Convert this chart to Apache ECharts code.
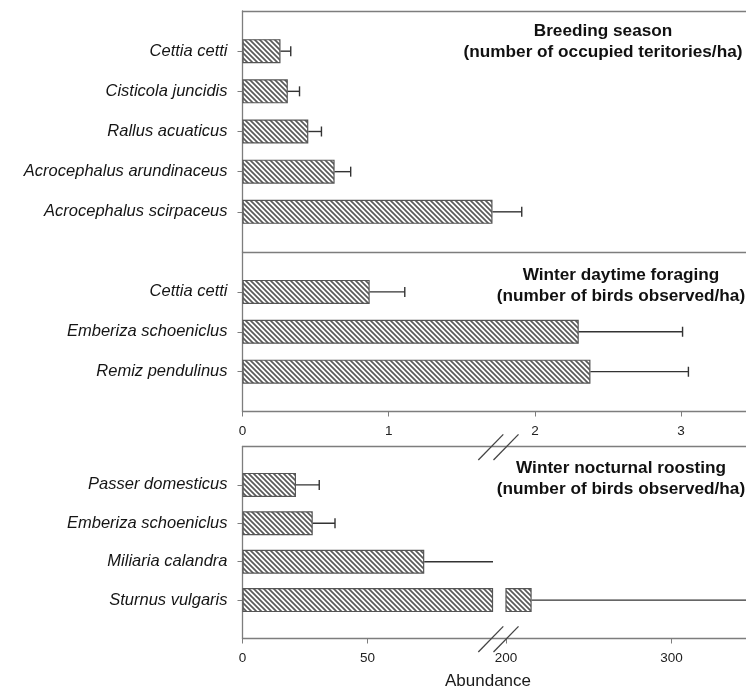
<!DOCTYPE html>
<html><head><meta charset="utf-8">
<script src="https://cdn.jsdelivr.net/npm/echarts@6/dist/echarts.min.js"></script>
<style>html,body{margin:0;padding:0;background:#fff}#c{width:746px;height:691px}</style>
</head><body><div id="c"></div>
<script>
// ---- data ----
const breedCats = ['Cettia cetti', 'Cisticola juncidis', 'Rallus acuaticus', 'Acrocephalus arundinaceus', 'Acrocephalus scirpaceus'];
const breedMean = [0.26, 0.31, 0.45, 0.63, 1.71];
const breedErr  = [0.07, 0.08, 0.09, 0.11, 0.20];
const dayCats = ['Cettia cetti', 'Emberiza schoeniclus', 'Remiz pendulinus'];
const dayMean = [0.87, 2.30, 2.38];
const dayErr  = [0.24, 0.71, 0.67];
const roostCats = ['Passer domesticus', 'Emberiza schoeniclus', 'Miliaria calandra', 'Sturnus vulgaris'];
const roostMean = [21.4, 28.1, 72.7, 215.5];
const roostErr  = [9.3, 8.9, 40, 150];
const dayTicks = [0, 1, 2, 3];
const roostTicksLow = [0, 50];
const roostTicksHigh = [200, 300];
const panelTitles = [
  'Breeding season\n(number of occupied teritories/ha)',
  'Winter daytime foraging\n(number of birds observed/ha)',
  'Winter nocturnal roosting\n(number of birds observed/ha)'
];
const xAxisTitle = 'Abundance';

// ---- layout ----
const FONT = '"Liberation Sans", Arial, sans-serif';
const L = 242.5;
const G0 = {left: L, top: 11, width: 503.5, height: 241};
const G1 = {left: L, top: 252, width: 503.5, height: 159.5};
const G2 = {left: L, top: 446.5, width: 250, height: 192};
const G3 = {left: 506, top: 446.5, width: 240, height: 192};
const G4 = {left: L, top: 446.5, width: 503.5, height: 192};
const AX = '#7d7d7d';

const P = 5;
const hatch = document.createElement('canvas');
hatch.width = P; hatch.height = P;
(function () {
  const g = hatch.getContext('2d');
  g.fillStyle = '#fff'; g.fillRect(0, 0, P, P);
  g.strokeStyle = '#5a5a5a'; g.lineWidth = 1.7;
  g.beginPath();
  g.moveTo(-1, -1); g.lineTo(P + 1, P + 1);
  g.moveTo(-1, P - 1); g.lineTo(1, P + 1);
  g.moveTo(P - 1, -1); g.lineTo(P + 1, 1);
  g.stroke();
})();

const pad = a => [' ', ...a, '  '];
const padV = a => [null, ...a, null];

function catAxis(grid, cats, show) {
  const n = cats.length + 2;
  return {
    type: 'category', gridIndex: grid, inverse: true, boundaryGap: false,
    data: pad(cats), show: show !== false,
    axisLine: {show: true, lineStyle: {color: AX, width: 1.3}},
    axisTick: {show: true, length: 5, inside: false, interval: (i) => i > 0 && i < n - 1, lineStyle: {color: AX}},
    axisLabel: {fontFamily: FONT, fontStyle: 'italic', fontSize: 16.5, color: '#151515', margin: 15,
      interval: 0},
    splitLine: {show: false}
  };
}
function valAxis(grid, min, max, opts) {
  return Object.assign({
    type: 'value', gridIndex: grid, min, max, position: 'bottom',
    axisLine: {show: true, onZero: false, lineStyle: {color: AX, width: 1.3}},
    axisTick: {show: false}, axisLabel: {show: false}, splitLine: {show: false}
  }, opts || {});
}
function ticked(vals) {
  return {
    axisTick: {show: true, length: 5, customValues: vals, lineStyle: {color: AX}},
    axisLabel: {show: true, customValues: vals, fontFamily: FONT, fontSize: 13.5, color: '#222', margin: 13}
  };
}
function barSeries(xi, yi, means) {
  return {
    type: 'bar', xAxisIndex: xi, yAxisIndex: yi, data: padV(means), barWidth: 24, clip: true,
    itemStyle: {color: {image: hatch, repeat: 'repeat'}, borderColor: '#555', borderWidth: 1.2},
    silent: true, z: 2
  };
}
function errSeries(xi, yi, means, errs) {
  const data = means.map((m, i) => [i + 1, m, m + errs[i]]);
  return {
    type: 'custom', xAxisIndex: xi, yAxisIndex: yi, clip: true, silent: true, z: 3,
    encode: {x: [1, 2], y: 0},
    data,
    renderItem(params, api) {
      const c = api.value(0);
      const p0 = api.coord([api.value(1), c]);
      const p1 = api.coord([api.value(2), c]);
      const h = 5;
      const st = {stroke: '#333', lineWidth: 1.4};
      return {type: 'group', children: [
        {type: 'line', shape: {x1: p0[0], y1: p0[1], x2: p1[0], y2: p1[1]}, style: st},
        {type: 'line', shape: {x1: p1[0], y1: p1[1] - h, x2: p1[0], y2: p1[1] + h}, style: st}
      ]};
    }
  };
}

const XMAX = G0.width / 146.2;

const option = {
  animation: false,
  grid: [G0, G1, G2, G3, G4].map(g => Object.assign({containLabel: false}, g)),
  xAxis: [
    valAxis(0, 0, XMAX),                                   // 0 top panel bottom line
    valAxis(0, 0, XMAX, {position: 'top'}),                // 1 top panel top line
    valAxis(1, 0, XMAX, ticked(dayTicks)),                 // 2 middle axis
    valAxis(2, 0, 100, Object.assign({axisLine: {show: false}}, ticked(roostTicksLow))),   // 3 bottom left
    valAxis(3, 200, 200 + G3.width / 1.655, Object.assign({axisLine: {show: false}}, ticked(roostTicksHigh))), // 4 bottom right
    valAxis(4, 0, 1),                                      // 5 frame bottom line
    valAxis(4, 0, 1, {position: 'top'})                    // 6 frame top line
  ],
  yAxis: [
    catAxis(0, breedCats),
    catAxis(1, dayCats),
    catAxis(2, roostCats),
    catAxis(3, roostCats, false),
    {type: 'value', gridIndex: 4, min: 0, max: 1, show: false}
  ],
  series: [
    barSeries(0, 0, breedMean), errSeries(0, 0, breedMean, breedErr),
    barSeries(2, 1, dayMean), errSeries(2, 1, dayMean, dayErr),
    barSeries(3, 2, roostMean), errSeries(3, 2, roostMean, roostErr),
    barSeries(4, 3, roostMean), errSeries(4, 3, roostMean, roostErr)
  ]
};

const chart = echarts.init(document.getElementById('c'), null, {renderer: 'canvas'});
chart.setOption(option);

// decorations: panel titles, axis title, axis-break marks
const xBreakL = chart.convertToPixel({xAxisIndex: 3}, 100);
const xBreakR = chart.convertToPixel({xAxisIndex: 4}, 200);
const yT = G2.top, yB = G2.top + G2.height;
function slash(cx, cy) {
  return {type: 'line', shape: {x1: cx - 12.5, y1: cy + 12.8, x2: cx + 12.5, y2: cy - 12.8},
    style: {stroke: '#444', lineWidth: 1.3}, z: 10};
}
function title(text, x, y, lh) {
  return {type: 'text', x, y, z: 10, style: {text, fontFamily: FONT, fontSize: 17.2, fontWeight: 'bold',
    fill: '#111', align: 'center', verticalAlign: 'middle', lineHeight: lh}};
}
chart.setOption({
  graphic: [
    title(panelTitles[0], 603, 41.5, 21),
    title(panelTitles[1], 621, 286, 21.5),
    title(panelTitles[2], 621, 479, 20.5),
    {type: 'text', x: 488, y: 681, z: 10, style: {text: xAxisTitle, fontFamily: FONT, fontSize: 17,
      fill: '#1a1a1a', align: 'center', verticalAlign: 'middle'}},
    slash(xBreakL - 1.7, yT + 0.7), slash(xBreakR, yT + 0.7),
    slash(xBreakL - 1.7, yB + 0.7), slash(xBreakR, yB + 0.7)
  ]
});
</script>
</body></html>
